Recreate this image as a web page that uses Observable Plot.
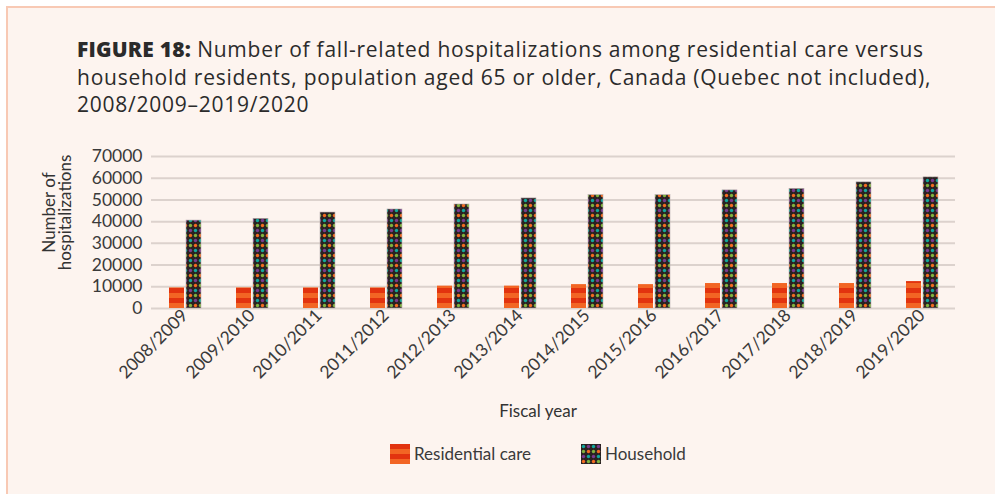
<!DOCTYPE html>
<html><head><meta charset="utf-8">
<script src="https://cdn.jsdelivr.net/npm/d3@7"></script>
<script src="https://cdn.jsdelivr.net/npm/@observablehq/plot@0.6"></script>
<style>
html,body{margin:0;padding:0;background:#fff;font-family:Lato,"Open Sans",sans-serif;overflow:hidden;}
#box{position:absolute;left:6px;top:6px;width:1000px;height:500px;background:#fdf4ef;border-left:2px solid #f8c9b4;border-top:2px solid #f8c9b4;}
#title{position:absolute;left:77px;top:36px;font-family:"Open Sans",sans-serif;font-size:21px;letter-spacing:0.75px;line-height:27.5px;color:#2b2b2b;white-space:nowrap;}
#title b{font-weight:800;letter-spacing:0.2px;}
#chart{position:absolute;left:0;top:140px;}
.ylab{position:absolute;font-size:17px;color:#333;white-space:nowrap;transform-origin:center center;}
#xlab{position:absolute;left:0;width:1076px;top:400px;text-align:center;font-size:17px;color:#333;}
.leg{position:absolute;top:443px;display:flex;align-items:center;font-size:17px;color:#3a3a3a;}
.leg svg{margin-right:4px;}
</style></head>
<body>
<div id="box"></div>
<div id="title"><b>FIGURE 18:</b> Number of fall-related hospitalizations among residential care versus<br>household residents, population aged 65 or older, Canada (Quebec not included),<br>2008/2009–2019/2020</div>
<div class="ylab" id="yl1">Number of</div>
<div class="ylab" id="yl2">hospitalizations</div>
<div id="chart"></div>
<div id="xlab">Fiscal year</div>
<div class="leg" style="left:390px"><svg width="20" height="20"><rect width="20" height="20" fill="url(#stripesL)"/></svg>Residential care</div>
<div class="leg" style="left:581px"><svg width="20" height="20"><rect width="20" height="20" fill="url(#dotsL)"/></svg>Household</div>
<script>
const years = ["2008/2009","2009/2010","2010/2011","2011/2012","2012/2013","2013/2014","2014/2015","2015/2016","2016/2017","2017/2018","2018/2019","2019/2020"];
const seriesNames = ["Residential care","Household"];
const residential = [9500,9500,9500,9500,10300,10300,11000,11000,11500,11500,11500,12400];
const household = [40500,41300,44200,45600,47900,50700,52200,52200,54400,55100,58100,60400];
const yTicks = [0,10000,20000,30000,40000,50000,60000,70000];

const rows = years.flatMap((y,i)=>[
  {year:y, series:"Residential care", value:residential[i]},
  {year:y, series:"Household", value:household[i]}
]);

const plot = Plot.plot({
  width: 995, height: 260,
  marginLeft: 148, marginRight: 38, marginTop: 16, marginBottom: 92,
  style: {background:"transparent", fontFamily:"Lato, sans-serif", fontSize:"17.5px", color:"#3a3a3a"},
  fx: {domain: years, padding: 0, label: null, tickRotate: -45, tickSize: 0, tickPadding: 4},
  x: {domain: seriesNames, axis: null, paddingInner: 0.12, paddingOuter: 0.95},
  y: {domain: [0,70000], ticks: yTicks, label: null, tickSize: 0, tickPadding: 9, tickFormat: d => String(d)},
  marks: [
    Plot.gridY(yTicks, {stroke:"#dcd2cd", strokeOpacity:1, strokeWidth:2}),
    Plot.barY(rows.filter(d=>d.series==="Residential care"), {fx:"year", x:"series", y:"value", fill:"url(#stripes)"}),
    Plot.barY(rows.filter(d=>d.series==="Household"), {fx:"year", x:"series", y:"value", fill:"url(#dots)", stroke:"#b9aeb0", strokeWidth:0.6})
  ]
});
document.getElementById("chart").appendChild(plot);

// patterns
const ns = "http://www.w3.org/2000/svg";
function addDefs(svg, suffix, oy){
  const defs = document.createElementNS(ns,"defs");
  defs.innerHTML = `
  <pattern id="stripes${suffix}" patternUnits="userSpaceOnUse" width="10" height="10" y="${oy}">
    <rect width="10" height="5" fill="#e2330f"/>
    <rect y="5" width="10" height="5" fill="#f26524"/>
  </pattern>
  <pattern id="dots${suffix}" patternUnits="userSpaceOnUse" width="10" height="20" y="${oy}">
    <rect width="10" height="20" fill="#2a2222"/>
    <circle cx="2.5" cy="2.5" r="1.7" fill="#12a89c"/>
    <circle cx="7.5" cy="2.5" r="1.7" fill="#7a3a8e"/>
    <circle cx="2.5" cy="7.5" r="1.7" fill="#80b23e"/>
    <circle cx="7.5" cy="7.5" r="1.7" fill="#f36b21"/>
    <circle cx="2.5" cy="12.5" r="1.7" fill="#7a3a8e"/>
    <circle cx="7.5" cy="12.5" r="1.7" fill="#12a89c"/>
    <circle cx="2.5" cy="17.5" r="1.7" fill="#f36b21"/>
    <circle cx="7.5" cy="17.5" r="1.7" fill="#80b23e"/>
  </pattern>`;
  svg.insertBefore(defs, svg.firstChild);
}
addDefs(plot, "", 8);
const legSvg = document.querySelector(".leg svg");
addDefs(legSvg, "L", 0);

// y-axis title positioning
function placeY(id, cx, cy){
  const el = document.getElementById(id);
  const w = el.offsetWidth, h = el.offsetHeight;
  el.style.left = (cx - w/2) + "px";
  el.style.top = (cy - h/2) + "px";
  el.style.transform = "rotate(-90deg)";
}
placeY("yl1", 48, 212);
placeY("yl2", 65, 212);
</script>
</body></html>
